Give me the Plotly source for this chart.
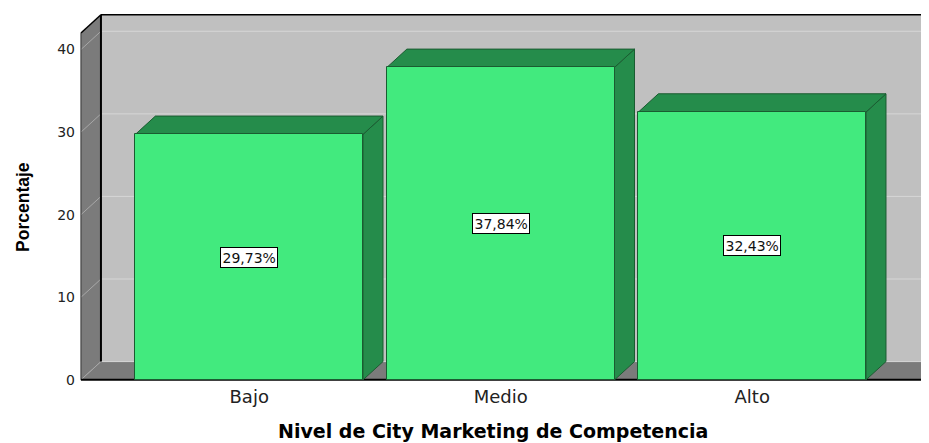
import plotly.graph_objects as go

# ---- data ----
categories = ["Bajo", "Medio", "Alto"]
percentages = [29.73, 37.84, 32.43]
y_ticks = [0, 10, 20, 30, 40]
x_title = "Nivel de City Marketing de Competencia"
y_title = "Porcentaje"

# ---- style / frame geometry (data units) ----
BAR_W = 0.905
DX = 0.0795          # 3D depth along x
DY = 2.215           # 3D depth along y
WALL_LEFT = -0.669
FLOOR_RIGHT = 2.675
WALL_TOP = 42.0
X_RANGE = [-0.6887, 2.703]
Y_RANGE = [-0.5, 44.79]

FRONT = "#42EA7E"
SIDE = "#258C4B"
EDGE = "#1a5c31"
BACK = "#C0C0C0"
DARK = "#7B7B7B"
GRID = "#D6D6D6"
GRID_L = "#A8A8A8"

xs = list(range(len(categories)))


def poly(pts, fill, line_color=None, width=0):
    d = "M " + " L ".join(f"{px},{py}" for px, py in pts) + " Z"
    return dict(type="path", path=d, xref="x", yref="y", fillcolor=fill,
                line=dict(color=line_color or fill, width=width), layer="below")


def seg(x0, y0, x1, y1, color, width=1):
    return dict(type="line", x0=x0, y0=y0, x1=x1, y1=y1, xref="x", yref="y",
                line=dict(color=color, width=width), layer="below")


shapes = []
BIG = X_RANGE[1] + 1
# back wall
shapes.append(poly([(WALL_LEFT + DX, DY), (BIG, DY), (BIG, WALL_TOP + DY),
                    (WALL_LEFT + DX, WALL_TOP + DY)], BACK))
# left wall
shapes.append(poly([(WALL_LEFT, 0), (WALL_LEFT + DX, DY), (WALL_LEFT + DX, WALL_TOP + DY),
                    (WALL_LEFT, WALL_TOP)], DARK))
# floor
shapes.append(poly([(WALL_LEFT, 0), (FLOOR_RIGHT, 0), (FLOOR_RIGHT + DX, DY),
                    (WALL_LEFT + DX, DY)], DARK))
# gridlines
for v in y_ticks:
    shapes.append(seg(WALL_LEFT + DX, v + DY, BIG, v + DY, GRID, 1))
    shapes.append(seg(WALL_LEFT, v, WALL_LEFT + DX, v + DY, GRID_L, 1))
# frame edges
shapes.append(seg(WALL_LEFT + DX, DY, WALL_LEFT + DX, WALL_TOP + DY, "#000000", 2))
shapes.append(seg(WALL_LEFT + DX, WALL_TOP + DY, BIG, WALL_TOP + DY, "#000000", 1.5))
shapes.append(seg(WALL_LEFT, WALL_TOP, WALL_LEFT + DX, WALL_TOP + DY, "#000000", 1.5))
shapes.append(seg(WALL_LEFT, 0, WALL_LEFT, WALL_TOP, "#333333", 1))
shapes.append(seg(WALL_LEFT, 0, FLOOR_RIGHT, 0, "#000000", 2))
shapes.append(seg(FLOOR_RIGHT, 0, FLOOR_RIGHT + DX, DY, "#000000", 2))

# bar top and side faces
for x, v in zip(xs, percentages):
    xl, xr = x - BAR_W / 2, x + BAR_W / 2
    shapes.append(poly([(xr, 0), (xr + DX, DY), (xr + DX, v + DY), (xr, v)], SIDE, EDGE, 1))
    shapes.append(poly([(xl, v), (xl + DX, v + DY), (xr + DX, v + DY), (xr, v)], SIDE, EDGE, 1))

fig = go.Figure()
fig.add_trace(go.Bar(
    x=xs, y=percentages, width=BAR_W,
    marker=dict(color=FRONT, line=dict(color=EDGE, width=1)),
    hoverinfo="skip", showlegend=False,
))

annotations = []
for x, v in zip(xs, percentages):
    annotations.append(dict(
        x=x, y=v / 2, xref="x", yref="y", showarrow=False,
        text=f"{v:.2f}".replace(".", ",") + "%",
        font=dict(family="DejaVu Sans", size=14, color="#111111"),
        bgcolor="#FFFFFF", bordercolor="#000000", borderwidth=1, borderpad=1.5,
    ))

# page body has an 8px margin: lay out in reference pixels shifted by OFF
OFF = 8
W, H = 929 - OFF, 443 - OFF
L_REF, T_REF, BOT_REF = 76, 10, 384.13
L, T = L_REF - OFF, T_REF - OFF
B = H - (BOT_REF - OFF)
PW = W - L
PH = H - T - B

annotations.append(dict(
    text=x_title, xref="paper", yref="paper", x=(492.5 - L_REF) / PW, y=0,
    yshift=-47, xanchor="center", yanchor="middle", showarrow=False,
    font=dict(family="DejaVu Sans", size=19, color="#000000", weight="bold"),
))
annotations.append(dict(
    text=y_title, xref="paper", yref="paper", x=(23 - L_REF) / PW, y=(BOT_REF - 207) / PH,
    xanchor="center", yanchor="middle", textangle=-90, showarrow=False,
    font=dict(family="Liberation Sans, Arial", size=17.5, color="#000000", weight="bold"),
))

fig.update_layout(
    width=W, height=H, autosize=False,
    margin=dict(l=L, r=0, t=T, b=B, pad=0),
    paper_bgcolor="#FFFFFF", plot_bgcolor="#FFFFFF",
    shapes=shapes, annotations=annotations,
    xaxis=dict(range=X_RANGE, tickvals=xs, ticktext=categories, showgrid=False,
               zeroline=False, showline=False, ticks="", ticklabelstandoff=0,
               tickfont=dict(family="DejaVu Sans", size=18, color="#222222"),
               fixedrange=True),
    yaxis=dict(range=Y_RANGE, tickvals=y_ticks, showgrid=False, zeroline=False,
               showline=False, ticks="", anchor="free", position=(81 - L_REF) / PW,
               ticklabelstandoff=6,
               tickfont=dict(family="DejaVu Sans", size=14, color="#222222"),
               fixedrange=True),
    bargap=0,
)

fig.write_html("out.html")
